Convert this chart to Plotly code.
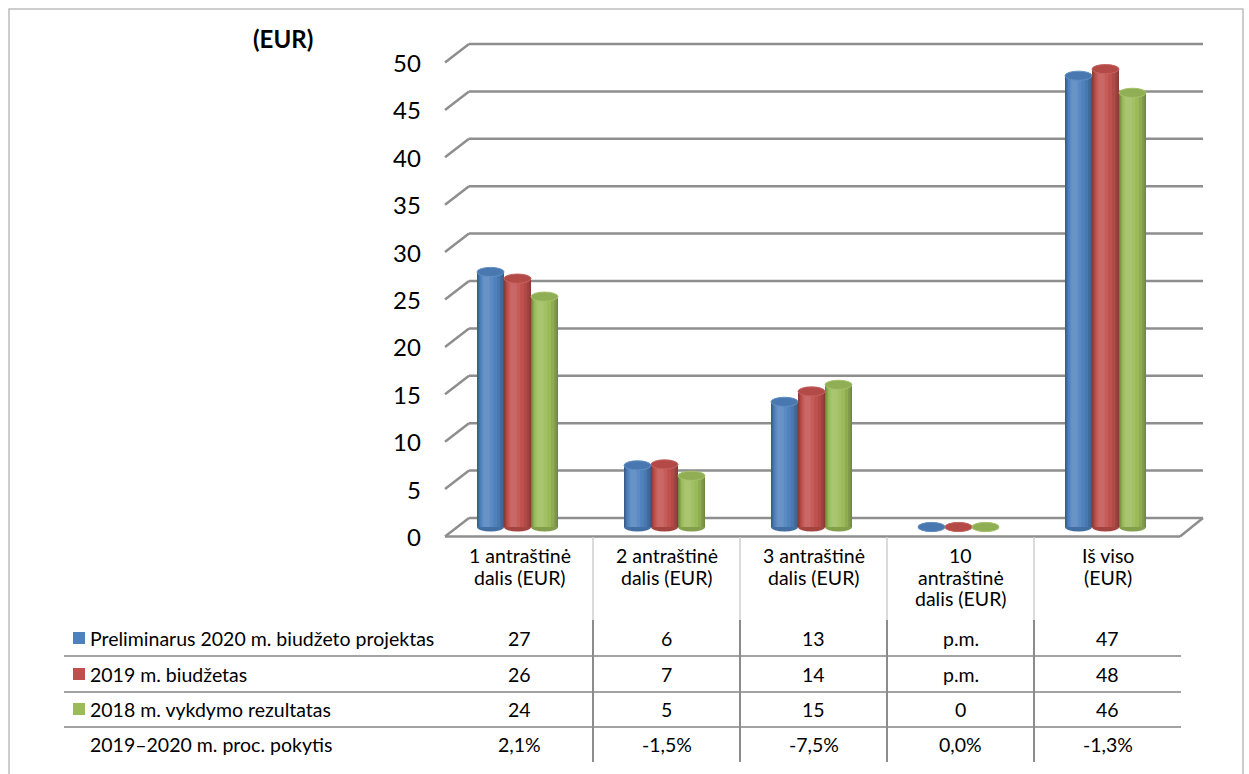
import plotly.graph_objects as go

# ---------------- data ----------------
categories = ["1 antraštinė dalis (EUR)", "2 antraštinė dalis (EUR)",
              "3 antraštinė dalis (EUR)", "10 antraštinė dalis (EUR)", "Iš viso (EUR)"]
header_lines = [["1 antraštinė", "dalis (EUR)"], ["2 antraštinė", "dalis (EUR)"],
                ["3 antraštinė", "dalis (EUR)"], ["10", "antraštinė", "dalis (EUR)"],
                ["Iš viso", "(EUR)"]]
series_names = ["Preliminarus 2020 m. biudžeto projektas", "2019 m. biudžetas",
                "2018 m. vykdymo rezultatas"]
values_2020 = [26.9, 6.5, 13.2, 0.0, 47.6]
values_2019 = [26.2, 6.6, 14.3, 0.0, 48.3]
values_2018 = [24.3, 5.4, 15.0, 0.0, 45.8]
table_2020 = ["27", "6", "13", "p.m.", "47"]
table_2019 = ["26", "7", "14", "p.m.", "48"]
table_2018 = ["24", "5", "15", "0", "46"]
pct_label = "2019–2020 m. proc. pokytis"
pct_change = ["2,1%", "-1,5%", "-7,5%", "0,0%", "-1,3%"]
y_ticks = [0, 5, 10, 15, 20, 25, 30, 35, 40, 45, 50]
y_title = "(EUR)"

series_values = [values_2020, values_2019, values_2018]
series_tables = [table_2020, table_2019, table_2018]
series_colors = ["#4F81BD", "#C0504D", "#9BBB59"]

# ---------------- geometry (pixels) ----------------
W, H = 1249, 774
CAT_LEFT, CAT_W = 446, 147
ZERO_PY, PPU = 527, 9.48            # mid-depth zero line, pixels per unit
BACK_DY, FRONT_DY = -9.0, 9.5        # depth offsets of back wall / front edge
FRONT_LEFT, BACK_LEFT = 445, 469
FRONT_RIGHT, BACK_RIGHT = 1180, 1203
BAR_PX = 27
GROUP_SHIFT_PX = -2
FONT = "Lato, 'Open Sans', sans-serif"

c0 = CAT_LEFT + CAT_W / 2
x_range = [(0 - c0) / CAT_W, (W - c0) / CAT_W]
y_range = [(ZERO_PY - H) / PPU, ZERO_PY / PPU]
back_off = -BACK_DY / PPU
front_off = -FRONT_DY / PPU


def px(x):
    return x / W


def py(y):
    return 1 - y / H


def shade(hexcol, f):
    r, g, b = (int(hexcol[i:i + 2], 16) for i in (1, 3, 5))
    if f <= 1:
        r, g, b = r * f, g * f, b * f
    else:
        t = f - 1
        r, g, b = r + (255 - r) * t, g + (255 - g) * t, b + (255 - b) * t
    return "rgb(%d,%d,%d)" % (round(r), round(g), round(b))


fig = go.Figure()
shapes = []
annotations = []

GRID = dict(color="#8E8E8E", width=2.5)
# back-wall gridlines + left side diagonals
for v in y_ticks:
    shapes.append(dict(type="line", xref="paper", yref="y", x0=px(BACK_LEFT), x1=px(BACK_RIGHT),
                       y0=v + back_off, y1=v + back_off, layer="below", line=GRID))
    shapes.append(dict(type="line", xref="paper", yref="y", x0=px(FRONT_LEFT), x1=px(BACK_LEFT),
                       y0=v + front_off, y1=v + back_off, layer="below", line=GRID))
    annotations.append(dict(xref="paper", yref="y", x=px(423), y=v + front_off, text=str(v),
                            showarrow=False, xanchor="right", yanchor="middle",
                            font=dict(family=FONT, size=24, color="#000")))
# floor front edge and right diagonal
shapes.append(dict(type="line", xref="paper", yref="y", x0=px(FRONT_LEFT), x1=px(FRONT_RIGHT),
                   y0=front_off, y1=front_off, layer="below", line=GRID))
shapes.append(dict(type="line", xref="paper", yref="y", x0=px(FRONT_RIGHT), x1=px(BACK_RIGHT),
                   y0=front_off, y1=back_off, layer="below", line=GRID))

# cylinders: nested stripes to imitate shading
bw = BAR_PX / CAT_W
gshift = GROUP_SHIFT_PX / CAT_W
layers = [(0.00, 1.00, 0.72), (0.04, 0.95, 0.82), (0.08, 0.86, 0.92),
          (0.12, 0.74, 1.00), (0.17, 0.60, 1.07), (0.23, 0.47, 1.14)]
cap_h = 4.6 / PPU
for s, (name, vals, col) in enumerate(zip(series_names, series_values, series_colors)):
    left = gshift + (s - 1) * bw - bw / 2
    for a, b, f in layers:
        fig.add_trace(go.Bar(x=categories, y=vals, width=(b - a) * bw, offset=left + a * bw,
                             marker=dict(color=shade(col, f), line=dict(width=0)),
                             name=name, showlegend=False, hoverinfo="skip"))
    for i, v in enumerate(vals):
        shapes.append(dict(type="circle", xref="x", yref="y", x0=i + left, x1=i + left + bw,
                           y0=-cap_h, y1=cap_h, layer="below",
                           fillcolor=shade(col, 0.85), line=dict(width=0)))
        shapes.append(dict(type="circle", xref="x", yref="y", x0=i + left, x1=i + left + bw,
                           y0=v - cap_h, y1=v + cap_h, layer="above",
                           fillcolor=shade(col, 0.93), line=dict(color=shade(col, 1.1), width=1)))

# ---------------- data table ----------------
ROW_Y = [638, 674, 709, 744]
ROW_LINES = [656, 692, 727]
COL_LINES = [593, 740, 887, 1034]
HEADER_Y = [555, 577, 598]
TABLE_FONT = dict(family=FONT, size=19.5, color="#000")
for yl in ROW_LINES:
    shapes.append(dict(type="line", xref="paper", yref="paper", x0=px(64), x1=px(1181),
                       y0=py(yl), y1=py(yl), line=dict(color="#A3A3A3", width=2)))
for xl in COL_LINES:
    shapes.append(dict(type="line", xref="paper", yref="paper", x0=px(xl), x1=px(xl),
                       y0=py(537), y1=py(620), line=dict(color="#CFCFCF", width=1.5)))
    shapes.append(dict(type="line", xref="paper", yref="paper", x0=px(xl), x1=px(xl),
                       y0=py(620), y1=py(762), line=dict(color="#8C8C8C", width=2)))

for i, lines in enumerate(header_lines):
    cx = CAT_LEFT + CAT_W * (i + 0.5)
    for k, t in enumerate(lines):
        annotations.append(dict(xref="paper", yref="paper", x=px(cx), y=py(HEADER_Y[k]), text=t,
                                showarrow=False, xanchor="center", yanchor="middle",
                                font=TABLE_FONT))

rows = [(series_names[s], series_tables[s], series_colors[s]) for s in range(3)]
rows.append((pct_label, pct_change, None))
for r, (label, cells, col) in enumerate(rows):
    yr = ROW_Y[r]
    annotations.append(dict(xref="paper", yref="paper", x=px(88), y=py(yr), text=label,
                            showarrow=False, xanchor="left", yanchor="middle", font=TABLE_FONT))
    if col:
        shapes.append(dict(type="rect", xref="paper", yref="paper", x0=px(73), x1=px(85),
                           y0=py(yr + 6), y1=py(yr - 6), fillcolor=col, line=dict(width=0)))
    for i, t in enumerate(cells):
        cx = CAT_LEFT + CAT_W * (i + 0.5)
        annotations.append(dict(xref="paper", yref="paper", x=px(cx), y=py(yr), text=t,
                                showarrow=False, xanchor="center", yanchor="middle",
                                font=TABLE_FONT))

# title
annotations.append(dict(xref="paper", yref="paper", x=px(283), y=py(38), text="<b>%s</b>" % y_title,
                        showarrow=False, xanchor="center", yanchor="middle",
                        font=dict(family=FONT, size=24, color="#000")))
# outer border (bottom edge lies below the visible page)
shapes.append(dict(type="rect", xref="paper", yref="paper", x0=px(9), x1=px(1243),
                   y0=py(780), y1=py(9), line=dict(color="#BDBDBD", width=1.5)))

fig.update_layout(
    width=W, height=H, margin=dict(l=0, r=0, t=0, b=0),
    paper_bgcolor="white", plot_bgcolor="white",
    barmode="overlay", showlegend=False,
    xaxis=dict(range=x_range, visible=False, fixedrange=True),
    yaxis=dict(range=y_range, visible=False, fixedrange=True),
    shapes=shapes, annotations=annotations,
)

fig.write_html("out.html", config={"displayModeBar": False},
               post_script="document.body.style.margin='0';document.body.style.overflow='hidden';")
